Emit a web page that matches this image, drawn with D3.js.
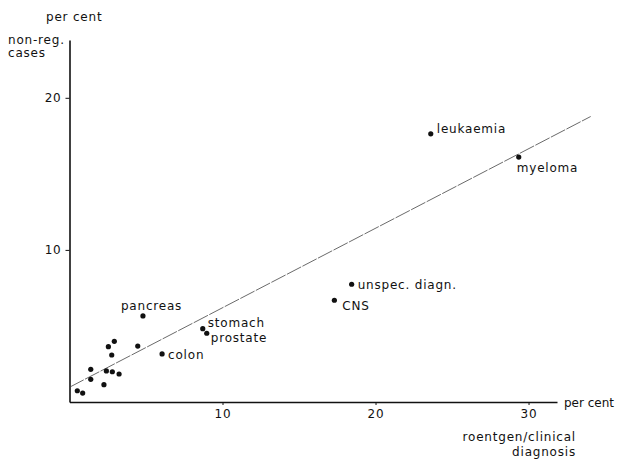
<!DOCTYPE html>
<html><head><meta charset="utf-8">
<script src="https://cdn.jsdelivr.net/npm/d3@7"></script>
<style>body{margin:0;background:#fff}svg text{font-family:"DejaVu Sans",sans-serif;fill:#111;letter-spacing:0.8px}</style>
</head><body><div id="c"></div>
<script>
// data
const xValues = [0.51,0.86,1.39,1.39,2.54,2.93,2.76,2.41,2.80,3.24,2.25,4.46,4.80,6.05,8.71,8.97,18.44,17.31,23.61,29.36];
const yValues = [0.74,0.59,2.15,1.49,3.64,3.99,3.09,2.04,1.99,1.84,1.14,3.68,5.66,3.16,4.82,4.52,7.74,6.69,17.63,16.10];
const pointLabels = ["","","","","","","","","","","","","pancreas","colon","stomach","prostate","unspec. diagn.","CNS","leukaemia","myeloma"];
const xTicks = [10,20,30];
const yTicks = [10,20];
const lineX = [0,34.06];
const lineY = [0.97,18.77];

const W=619,H=461;
const svg=d3.select("#c").append("svg").attr("width",W).attr("height",H);
const x=d3.scaleLinear().domain([0,31.86]).range([69.5,557]);
const y=d3.scaleLinear().domain([0,23.8]).range([402,40]);

// axes
const xAxis=d3.axisBottom(x).tickValues(xTicks).tickSize(3).tickPadding(4).tickSizeOuter(0);
const gx=svg.append("g").attr("transform",`translate(0,${y(0)})`).call(xAxis);
gx.select(".domain").attr("stroke","#111").attr("stroke-width",1.6);
gx.selectAll(".tick line").attr("stroke","#111");
gx.selectAll(".tick text").attr("font-size",12).attr("font-family","DejaVu Sans").attr("fill","#111");
const yAxis=d3.axisLeft(y).tickValues(yTicks).tickSize(4).tickPadding(4).tickSizeOuter(0);
const gy=svg.append("g").attr("transform",`translate(${x(0)},0)`).call(yAxis);
gy.select(".domain").attr("stroke","#111").attr("stroke-width",1.6);
gy.selectAll(".tick line").attr("stroke","#111");
gy.selectAll(".tick text").attr("font-size",12).attr("font-family","DejaVu Sans").attr("fill","#111");

// regression line
svg.append("line").attr("x1",x(lineX[0])).attr("y1",y(lineY[0])).attr("x2",x(lineX[1])).attr("y2",y(lineY[1]))
  .attr("stroke","#444").attr("stroke-width",0.8).attr("stroke-dasharray","16,1.5");

// points
const pts=xValues.map((v,i)=>({x:v,y:yValues[i],l:pointLabels[i]}));
svg.selectAll("circle").data(pts).enter().append("circle")
  .attr("cx",d=>x(d.x)).attr("cy",d=>y(d.y)).attr("r",2.6).attr("fill","#111");

// label offsets (dx, dy from point to text start/baseline)
const off={"pancreas":[-22,-6],"colon":[6,5],"stomach":[5,-2],"prostate":[4,9],"unspec. diagn.":[6,5],"CNS":[8,10],"leukaemia":[6,-1],"myeloma":[-2,15]};
svg.selectAll("text.lbl").data(pts.filter(d=>d.l)).enter().append("text").attr("class","lbl")
  .attr("x",d=>x(d.x)+off[d.l][0]).attr("y",d=>y(d.y)+off[d.l][1])
  .attr("font-size",12).text(d=>d.l);

// axis titles
svg.append("text").attr("x",46).attr("y",21).attr("font-size",12).text("per cent");
svg.append("text").attr("x",8).attr("y",44).attr("font-size",12).text("non-reg.");
svg.append("text").attr("x",8).attr("y",57).attr("font-size",12).text("cases");
svg.append("text").attr("x",564).attr("y",407).attr("font-size",12).style("letter-spacing","0px").text("per cent");
svg.append("text").attr("x",576).attr("y",441).attr("font-size",12).attr("text-anchor","end").text("roentgen/clinical");
svg.append("text").attr("x",576).attr("y",456).attr("font-size",12).attr("text-anchor","end").text("diagnosis");
</script></body></html>
